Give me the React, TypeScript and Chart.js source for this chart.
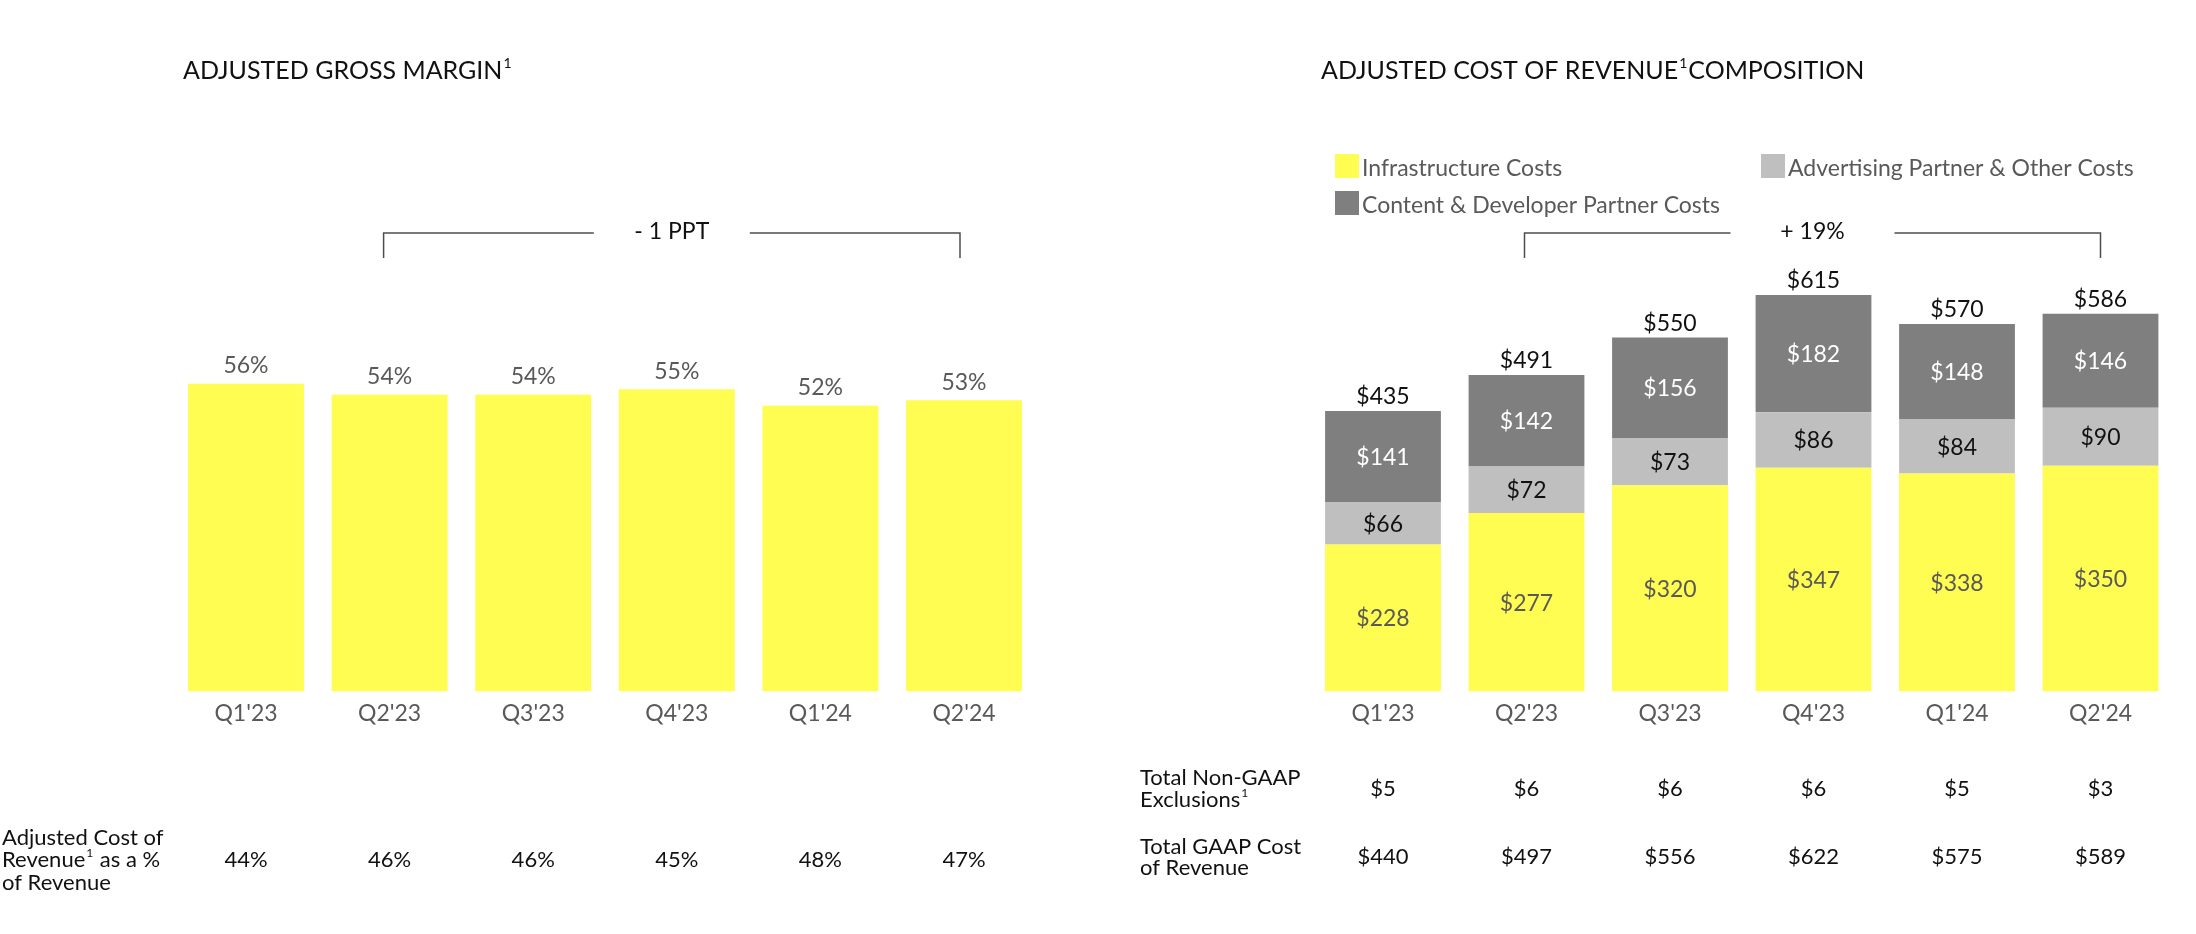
import React, { useEffect, useRef } from "react";
import { Chart, registerables } from "chart.js";

Chart.register(...registerables);

// ---------- data ----------
const quarters = ["Q1'23", "Q2'23", "Q3'23", "Q4'23", "Q1'24", "Q2'24"];
const grossMargin = [56, 54, 54, 55, 52, 53];
const costPctOfRevenue = [44, 46, 46, 45, 48, 47];
const infrastructureCosts = [228, 277, 320, 347, 338, 350];
const advertisingPartnerCosts = [66, 72, 73, 86, 84, 90];
const contentDeveloperCosts = [141, 142, 156, 182, 148, 146];
const totalAdjustedCost = [435, 491, 550, 615, 570, 586];
const nonGaapExclusions = [5, 6, 6, 6, 5, 3];
const totalGaapCost = [440, 497, 556, 622, 575, 589];

// ---------- style ----------
const FONT = "Lato, 'Liberation Sans', sans-serif";
const YELLOW = "#FFFC52";
const LIGHT_GRAY = "#BFBFBF";
const DARK_GRAY = "#7F7F7F";
const TEXT_GRAY = "#595959";
const TEXT_DARK = "#111111";

type Part = { t: string; sup?: boolean };

function drawRich(
  ctx: CanvasRenderingContext2D,
  parts: Part[],
  x: number,
  yCenter: number,
  size: number,
  color: string,
  align: "left" | "center" = "left"
) {
  const supSize = Math.round(size * 0.55);
  ctx.textBaseline = "alphabetic";
  ctx.textAlign = "left";
  let total = 0;
  parts.forEach((p) => {
    ctx.font = `${p.sup ? supSize : size}px ${FONT}`;
    total += ctx.measureText(p.t).width + (p.sup ? 2 : 0);
  });
  let cx = align === "center" ? x - total / 2 : x;
  const base = yCenter + size * 0.36;
  ctx.fillStyle = color;
  parts.forEach((p) => {
    if (p.sup) {
      ctx.font = `${supSize}px ${FONT}`;
      ctx.fillText(p.t, cx + 1, base - size * 0.45);
      cx += ctx.measureText(p.t).width + 2;
    } else {
      ctx.font = `${size}px ${FONT}`;
      ctx.fillText(p.t, cx, base);
      cx += ctx.measureText(p.t).width;
    }
  });
}

function drawCenter(
  ctx: CanvasRenderingContext2D,
  text: string,
  x: number,
  yCenter: number,
  size: number,
  color: string
) {
  drawRich(ctx, [{ t: text }], x, yCenter, size, color, "center");
}

function drawBracket(
  ctx: CanvasRenderingContext2D,
  x1: number,
  x2: number,
  y: number,
  yEnd: number,
  label: string,
  gap: number
) {
  const xm = (x1 + x2) / 2;
  ctx.save();
  ctx.strokeStyle = "#4D4D4D";
  ctx.lineWidth = 1.5;
  ctx.beginPath();
  ctx.moveTo(x1, yEnd);
  ctx.lineTo(x1, y);
  ctx.lineTo(xm - gap, y);
  ctx.moveTo(xm + gap, y);
  ctx.lineTo(x2, y);
  ctx.lineTo(x2, yEnd);
  ctx.stroke();
  ctx.restore();
  drawCenter(ctx, label, xm, y - 2, 23, TEXT_DARK);
}

// ---------- plugins ----------
const leftDeco = {
  id: "leftDeco",
  afterDraw(chart: any) {
    const ctx: CanvasRenderingContext2D = chart.ctx;
    const xs = chart.scales.x;
    ctx.save();
    drawRich(ctx, [{ t: "ADJUSTED GROSS MARGIN" }, { t: "1", sup: true }], 183, 70, 25, TEXT_DARK);

    const meta = chart.getDatasetMeta(0);
    meta.data.forEach((bar: any, i: number) => {
      drawCenter(ctx, `${grossMargin[i]}%`, bar.x, bar.y - 19, 23, TEXT_GRAY);
    });

    drawBracket(ctx, xs.getPixelForValue(1) - 6, xs.getPixelForValue(5) - 4, 233, 258, "- 1 PPT", 78);

    drawRich(ctx, [{ t: "Adjusted Cost of" }], 2, 837, 22, TEXT_DARK);
    drawRich(ctx, [{ t: "Revenue" }, { t: "1", sup: true }, { t: " as a %" }], 2, 859, 22, TEXT_DARK);
    drawRich(ctx, [{ t: "of Revenue" }], 2, 882, 22, TEXT_DARK);
    costPctOfRevenue.forEach((v, i) => {
      drawCenter(ctx, `${v}%`, xs.getPixelForValue(i), 859, 22, TEXT_DARK);
    });
    ctx.restore();
  },
};

const rightDeco = {
  id: "rightDeco",
  afterDraw(chart: any) {
    const ctx: CanvasRenderingContext2D = chart.ctx;
    const xs = chart.scales.x;
    ctx.save();
    drawRich(
      ctx,
      [{ t: "ADJUSTED COST OF REVENUE" }, { t: "1", sup: true }, { t: "COMPOSITION" }],
      221,
      70,
      25,
      TEXT_DARK
    );

    // legend
    const legendItems = [
      { c: YELLOW, t: "Infrastructure Costs", x: 235, y: 166 },
      { c: LIGHT_GRAY, t: "Advertising Partner & Other Costs", x: 661, y: 166 },
      { c: DARK_GRAY, t: "Content & Developer Partner Costs", x: 235, y: 203 },
    ];
    legendItems.forEach((it) => {
      ctx.fillStyle = it.c;
      ctx.fillRect(it.x, it.y - 12, 24, 24);
      drawRich(ctx, [{ t: it.t }], it.x + 27, it.y + 1.5, 23, TEXT_GRAY);
    });

    // segment labels
    const colors = [TEXT_GRAY, "#111111", "#FFFFFF"];
    const series = [infrastructureCosts, advertisingPartnerCosts, contentDeveloperCosts];
    series.forEach((vals, d) => {
      const meta = chart.getDatasetMeta(d);
      meta.data.forEach((bar: any, i: number) => {
        drawCenter(ctx, `$${vals[i]}`, bar.x, (bar.y + bar.base) / 2, 23, colors[d]);
      });
    });
    const topMeta = chart.getDatasetMeta(2);
    topMeta.data.forEach((bar: any, i: number) => {
      drawCenter(ctx, `$${totalAdjustedCost[i]}`, bar.x, bar.y - 15, 23, TEXT_DARK);
    });

    drawBracket(ctx, xs.getPixelForValue(1) - 2, xs.getPixelForValue(5), 233, 258, "+ 19%", 82);

    // table
    drawRich(ctx, [{ t: "Total Non-GAAP" }], 40, 777, 22, TEXT_DARK);
    drawRich(ctx, [{ t: "Exclusions" }, { t: "1", sup: true }], 40, 799, 22, TEXT_DARK);
    drawRich(ctx, [{ t: "Total GAAP Cost" }], 40, 846, 22, TEXT_DARK);
    drawRich(ctx, [{ t: "of Revenue" }], 40, 867, 22, TEXT_DARK);
    nonGaapExclusions.forEach((v, i) => {
      drawCenter(ctx, `$${v}`, xs.getPixelForValue(i), 788, 22, TEXT_DARK);
    });
    totalGaapCost.forEach((v, i) => {
      drawCenter(ctx, `$${v}`, xs.getPixelForValue(i), 856, 22, TEXT_DARK);
    });
    ctx.restore();
  },
};

const xAxis = (stacked: boolean) => ({
  stacked,
  grid: { display: false, drawTicks: false },
  border: { display: false },
  ticks: { color: TEXT_GRAY, font: { family: FONT, size: 23 }, padding: 8 },
});

export default function App() {
  const leftRef = useRef<HTMLCanvasElement>(null);
  const rightRef = useRef<HTMLCanvasElement>(null);

  useEffect(() => {
    const left = new Chart(leftRef.current as HTMLCanvasElement, {
      type: "bar",
      data: {
        labels: quarters,
        datasets: [
          {
            data: grossMargin,
            backgroundColor: YELLOW,
            barPercentage: 0.807,
            categoryPercentage: 1,
          },
        ],
      },
      options: {
        animation: false,
        responsive: true,
        maintainAspectRatio: false,
        layout: { padding: { left: 174.2, right: 64.2, top: 142, bottom: 198.8 } },
        plugins: { legend: { display: false }, tooltip: { enabled: false } },
        scales: {
          x: xAxis(false) as any,
          y: { display: false, min: 0, max: 100 },
        },
      },
      plugins: [leftDeco],
    });

    const ds = { barPercentage: 0.807, categoryPercentage: 1 };
    const right = new Chart(rightRef.current as HTMLCanvasElement, {
      type: "bar",
      data: {
        labels: quarters,
        datasets: [
          { label: "Infrastructure Costs", data: infrastructureCosts, backgroundColor: YELLOW, ...ds },
          { label: "Advertising Partner & Other Costs", data: advertisingPartnerCosts, backgroundColor: LIGHT_GRAY, ...ds },
          { label: "Content & Developer Partner Costs", data: contentDeveloperCosts, backgroundColor: DARK_GRAY, ...ds },
        ],
      },
      options: {
        animation: false,
        responsive: true,
        maintainAspectRatio: false,
        layout: { padding: { left: 211.25, right: 23.75, top: 175.6, bottom: 198.8 } },
        plugins: { legend: { display: false }, tooltip: { enabled: false } },
        scales: {
          x: xAxis(true) as any,
          y: { display: false, stacked: true, min: 0, max: 800 },
        },
      },
      plugins: [rightDeco],
    });

    return () => {
      left.destroy();
      right.destroy();
    };
  }, []);

  return (
    <div style={{ position: "fixed", left: 0, top: 0, width: 2196, height: 934, background: "#fff", overflow: "hidden" }}>
      <div style={{ position: "absolute", left: 0, top: 0, width: 1100, height: 934 }}>
        <canvas ref={leftRef} />
      </div>
      <div style={{ position: "absolute", left: 1100, top: 0, width: 1096, height: 934 }}>
        <canvas ref={rightRef} />
      </div>
    </div>
  );
}
